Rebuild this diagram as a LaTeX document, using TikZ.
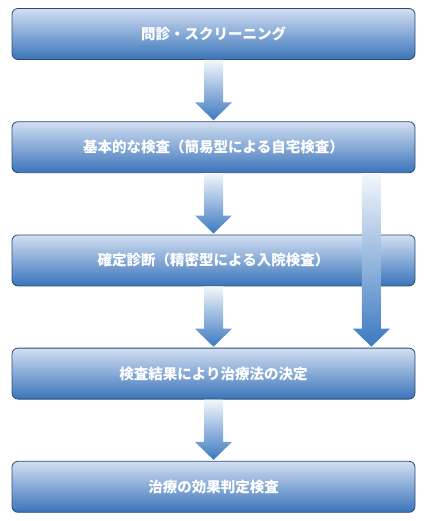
\documentclass[tikz,border=0pt]{standalone}
\usepackage{xcolor}
\usepackage{fontspec}
\newfontfamily\jpfont{Noto Sans CJK JP}
\usepackage{tikz}
\usetikzlibrary{math,calc}
\definecolor{boxtop}{HTML}{D2DFF2}
\definecolor{boxmid}{HTML}{8AAEDC}
\definecolor{boxbot}{HTML}{3A74BA}
\definecolor{boxline}{HTML}{2E4A72}
\definecolor{arrtop}{HTML}{F4F7FC}
\definecolor{arrbot}{HTML}{3B79C0}
\tikzset{
	stepbox/.style={draw=boxline,line width=0.8pt,rounded corners=6pt,
		top color=boxtop,middle color=boxmid,bottom color=boxbot,
		minimum width=403pt,minimum height=51pt,inner sep=0pt,
		text=white,font=\jpfont\bfseries\fontsize{14.5}{17}\selectfont},
	arrowfill/.style={top color=arrtop,bottom color=arrbot,draw=none}
}

\begin{document}
\begin{tikzpicture}[x=1pt,y=-1pt]
\useasboundingbox (0,0) rectangle (428,521);
\tikzmath{
	\cx = 213.5;\ya = 34;\gap = 113.2;
	{\node[stepbox] (s1) at (\cx,\ya) {問診・スクリーニング};};
	{\node[stepbox] (s2) at (\cx,\ya+\gap) {基本的な検査（簡易型による自宅検査）};};
	{\node[stepbox] (s3) at (\cx,\ya+2*\gap) {確定診断（精密型による入院検査）};};
	{\node[stepbox] (s4) at (\cx,\ya+3*\gap) {検査結果により治療法の決定};};
	{\node[stepbox] (s5) at (\cx,\ya+4*\gap) {治療の効果判定検査};};
	%
	{\coordinate (r1) at ($(s2.south east)+(-44,0)$);};
	{\coordinate (r2) at ($(s4.north east)+(-44,0)$);};
};
% block arrows between the steps
\foreach \a/\b in {s1.south/s2.north,s2.south/s3.north,s3.south/s4.north,s4.south/s5.north,r1/r2}{
	\path[arrowfill] let \p1=(\a), \p2=(\b) in
		(\x1-9.5,\y1) -- (\x1-9.5,\y2+19) -- (\x1-18.5,\y2+19) -- (\x1,\y2+1)
		-- (\x1+18.5,\y2+19) -- (\x1+9.5,\y2+19) -- (\x1+9.5,\y1) -- cycle;
}
\end{tikzpicture}
\end{document}
